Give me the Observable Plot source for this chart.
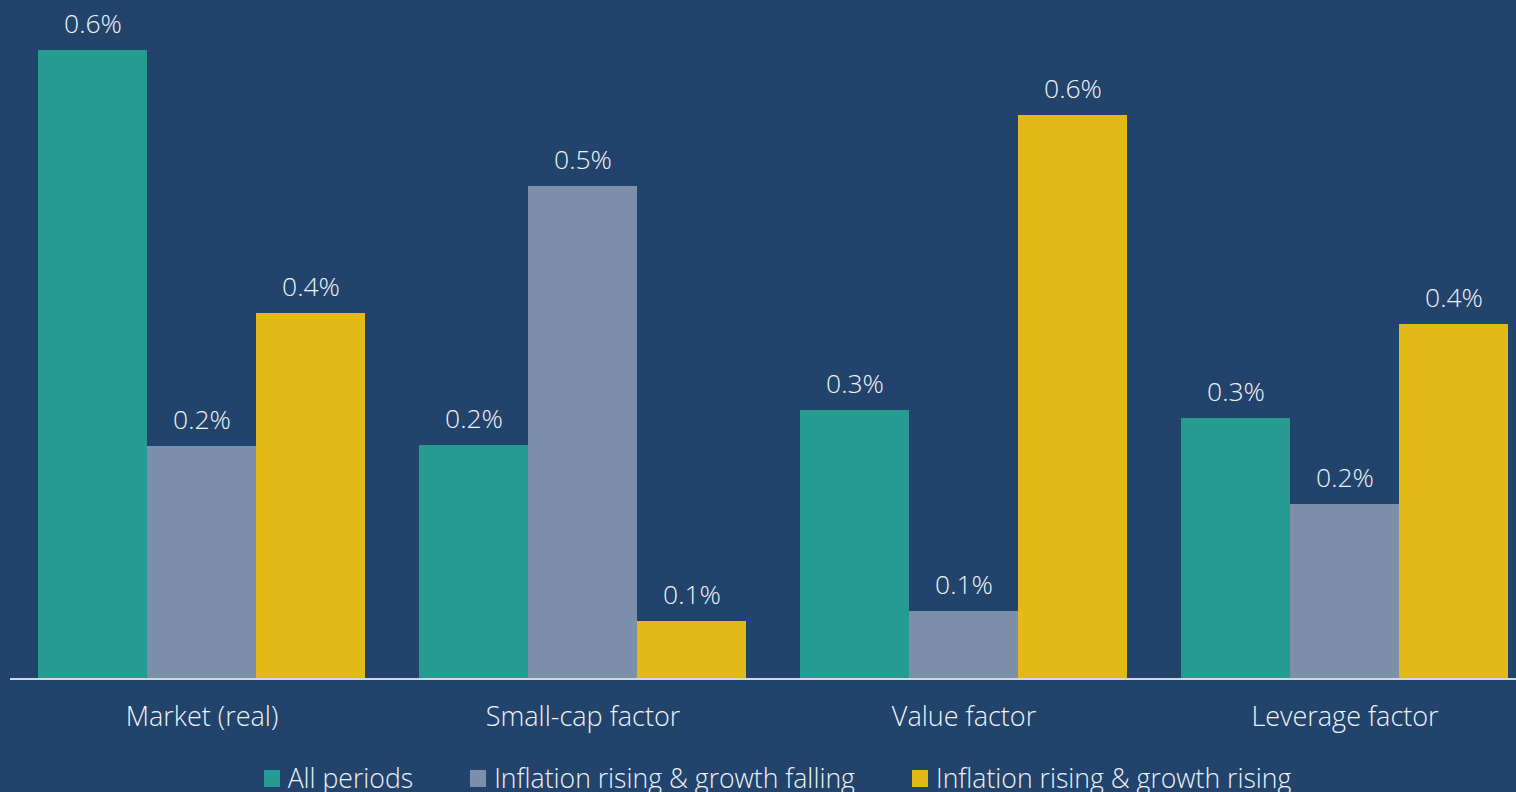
<!DOCTYPE html>
<html>
<head>
<meta charset="utf-8">
<script src="https://cdn.jsdelivr.net/npm/d3@7"></script>
<script src="https://cdn.jsdelivr.net/npm/@observablehq/plot@0.6"></script>
<style>
  html, body { margin: 0; padding: 0; background: #21436C; overflow: hidden; }
  body { width: 1516px; height: 792px; font-family: "Open Sans", sans-serif; }
  #legend { display: flex; justify-content: center; align-items: flex-end; height: 42px; padding-left: 39px; box-sizing: border-box; color: #EEF1F5; font-size: 26.6px; font-weight: 300; line-height: 1; }
  .item { display: flex; align-items: flex-end; margin: 0 28.5px; white-space: nowrap; }
  .sw { width: 16px; height: 17px; margin-right: 8px; margin-bottom: 5px; }
</style>
</head>
<body>
<div id="chart"></div>
<div id="legend"></div>
<script>
const categories = ["Market (real)", "Small-cap factor", "Value factor", "Leverage factor"];
const series = ["All periods", "Inflation rising & growth falling", "Inflation rising & growth rising"];
const colors = ["#269B92", "#7C90AB", "#E1BA18"];
// values in percent
const allPeriods = [0.629, 0.234, 0.269, 0.261];
const inflRisingGrowthFalling = [0.233, 0.493, 0.068, 0.175];
const inflRisingGrowthRising = [0.366, 0.058, 0.564, 0.355];

const seriesValues = [allPeriods, inflRisingGrowthFalling, inflRisingGrowthRising];
const data = [];
categories.forEach((c, i) => {
  series.forEach((s, j) => data.push({category: c, series: s, value: seriesValues[j][i]}));
});

const textColor = "#EEF1F5";
const font = "Open Sans";
const W = 1516, ML = 10, MR = 0;

const chart = Plot.plot({
  width: W,
  height: 750,
  marginTop: 0,
  marginLeft: ML,
  marginRight: MR,
  marginBottom: 71,
  style: {background: "transparent", fontFamily: font, color: textColor, overflow: "hidden"},
  fx: {domain: categories, range: [9.25, 1535.75], paddingInner: 0.143, paddingOuter: 0.0727, label: null},
  x: {domain: series, padding: 0, axis: null},
  y: {domain: [0, 0.679], axis: null},
  color: {domain: series, range: colors},
  marks: [
    Plot.barY(data, {fx: "category", x: "series", y: "value", fill: "series"}),
    Plot.text(data, {fx: "category", x: "series", y: "value", text: d => d.value.toFixed(1) + "%",
      dy: -18, lineAnchor: "bottom", fill: textColor, fontSize: 26.5, fontWeight: 300}),
    Plot.axisFx({anchor: "bottom", tickSize: 0, tickPadding: 27, fontSize: 27, fontWeight: 300, fill: textColor, label: null})
  ]
});
// baseline across the full plot width, positioned with the plot's own y scale
const yScale = chart.scale("y");
const y0 = yScale.apply(0);
d3.select(chart).append("line")
  .attr("x1", ML).attr("x2", W - MR)
  .attr("y1", y0).attr("y2", y0)
  .attr("stroke", "#D4D8DE").attr("stroke-width", 2);
document.getElementById("chart").appendChild(chart);

const legend = document.getElementById("legend");
series.forEach((s, j) => {
  const it = document.createElement("div");
  it.className = "item";
  const sw = document.createElement("div");
  sw.className = "sw";
  sw.style.background = colors[j];
  const t = document.createElement("span");
  t.textContent = s;
  it.appendChild(sw); it.appendChild(t);
  legend.appendChild(it);
});
</script>
</body>
</html>
